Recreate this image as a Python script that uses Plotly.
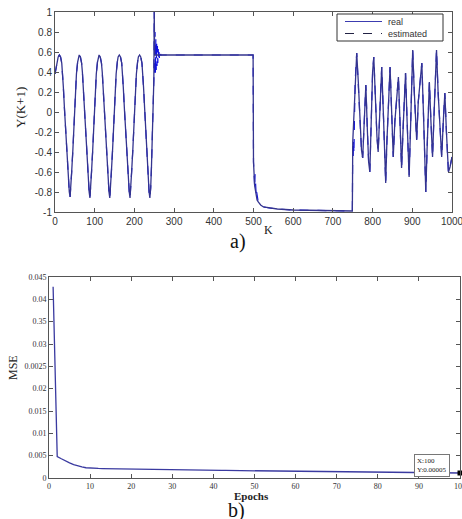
import plotly.graph_objects as go

# ---------------- a) identification result ----------------
real_K = [0, 3, 6, 8, 11,
          14, 17, 19, 21, 24, 27, 30, 33, 36, 38, 40, 42, 45, 48, 51, 54, 57, 59, 61,
          64, 67, 69, 71, 74, 77, 80, 83, 86, 88, 90, 92, 95, 98, 101, 104, 107, 109, 111,
          114, 117, 119, 121, 124, 127, 130, 133, 136, 138, 140, 142, 145, 148, 151, 154, 157, 159, 162,
          165, 168, 170, 172, 175, 178, 181, 184, 187, 189, 191, 193, 196, 199, 202, 205, 208, 210, 213,
          216, 219, 221, 223, 226, 229, 232, 235, 237, 239, 241, 243, 245, 247, 249, 250,
          251, 499, 500, 503, 506, 509, 512, 518, 525, 540, 560, 600, 680, 749, 750,
          752, 756, 760, 764, 768, 772, 775, 779, 783, 787, 790, 793, 797, 800, 803, 807, 811, 814,
          818, 823, 827, 830, 833, 836, 840, 844, 848, 852, 856, 861, 865, 869, 873, 877, 880, 883,
          887, 892, 896, 899, 901, 905, 908, 911, 915, 920, 924, 928, 931, 934, 937, 940, 943, 947,
          951, 955, 958, 961, 965, 970, 974, 978, 982, 986, 991, 995, 1000]
real_Y = [0.38, 0.46, 0.52, 0.55, 0.57,
          0.55, 0.49, 0.40, 0.25, 0.02, -0.22, -0.45, -0.65, -0.80, -0.85, -0.76, -0.60, -0.38, -0.12, 0.15, 0.38, 0.50, 0.55, 0.57,
          0.55, 0.49, 0.40, 0.25, 0.02, -0.22, -0.45, -0.65, -0.80, -0.86, -0.76, -0.60, -0.38, -0.12, 0.15, 0.38, 0.50, 0.55, 0.57,
          0.55, 0.49, 0.40, 0.25, 0.02, -0.22, -0.45, -0.65, -0.80, -0.86, -0.76, -0.60, -0.38, -0.12, 0.15, 0.38, 0.50, 0.55, 0.57,
          0.55, 0.49, 0.40, 0.25, 0.02, -0.22, -0.45, -0.65, -0.80, -0.86, -0.76, -0.60, -0.38, -0.12, 0.15, 0.38, 0.50, 0.55, 0.57,
          0.55, 0.49, 0.40, 0.25, 0.02, -0.22, -0.45, -0.65, -0.80, -0.86, -0.76, -0.55, -0.30, 0.00, 0.32, 1.00,
          0.57, 0.57, -0.50, -0.74, -0.84, -0.88, -0.90, -0.93, -0.95, -0.96, -0.97, -0.98, -0.985, -0.99, -0.30,
          -0.10, 0.30, 0.59, 0.30, -0.10, -0.38, -0.46, 0.00, 0.27, -0.20, -0.50, -0.60, 0.00, 0.40, 0.55, 0.10, -0.25, -0.40,
          0.05, 0.45, 0.00, -0.45, -0.71, -0.30, 0.15, 0.45, 0.00, -0.45, -0.10, 0.20, 0.35, -0.10, -0.56, -0.15, 0.20, 0.39,
          -0.10, -0.65, -0.10, 0.40, 0.62, 0.20, -0.10, -0.28, 0.10, 0.35, 0.49, 0.00, -0.50, -0.80, -0.40, 0.00, 0.30, -0.10,
          -0.45, 0.00, 0.35, 0.62, 0.20, -0.20, -0.45, -0.10, 0.19, -0.20, -0.60, -0.55, -0.45]

# transient deviations of the estimated output (otherwise identical to real)
trans_K = [250, 251, 252, 253, 254, 255, 256, 257, 258, 259, 260, 261, 262, 263, 264, 265, 266, 267, 268,
           500, 501, 502, 503, 504, 505, 506, 507, 508, 510,
           750, 751, 752, 753, 754, 756]
trans_Y = [1.00, 0.35, 0.80, 0.38, 0.74, 0.42, 0.70, 0.46, 0.66, 0.49, 0.63, 0.52, 0.60, 0.54, 0.59, 0.555, 0.58, 0.565, 0.57,
           -0.50, -0.72, -0.55, -0.76, -0.62, -0.80, -0.70, -0.85, -0.80, -0.88,
           -0.30, -0.48, -0.28, -0.42, -0.15, 0.30]
windows = [(250, 268), (500, 510), (750, 756)]

est_pts = [(k, y) for k, y in zip(real_K, real_Y)
           if not any(a <= k <= b for a, b in windows)]
est_pts += list(zip(trans_K, trans_Y))
est_pts.sort()
est_K = [p[0] for p in est_pts]
est_Y = [p[1] for p in est_pts]

top_xticks = [0, 100, 200, 300, 400, 500, 600, 700, 800, 900, 1000]
top_yticks = [-1, -0.8, -0.6, -0.4, -0.2, 0, 0.2, 0.4, 0.6, 0.8, 1]
top_ytext = ["-1", "-0.8", "-0.6", "-0.4", "-0.2", "0", "0.2", "0.4", "0.6", "0.8", "1"]
legend_names = ["real", "estimated"]

# ---------------- b) MSE ----------------
epochs = list(range(1, 101))
mse = [0.0428, 0.0048, 0.0043, 0.0038, 0.0034, 0.0030, 0.0027, 0.0025, 0.0023, 0.0022,
       0.00218, 0.00215, 0.00212, 0.00210, 0.00208, 0.00206, 0.00204, 0.00202, 0.00200, 0.00199,
       0.00197, 0.00196, 0.00194, 0.00193, 0.00191, 0.00190, 0.00189, 0.00187, 0.00186, 0.00185,
       0.00183, 0.00182, 0.00181, 0.00180, 0.00178, 0.00177, 0.00176, 0.00175, 0.00174, 0.00172,
       0.00171, 0.00170, 0.00169, 0.00168, 0.00167, 0.00166, 0.00165, 0.00164, 0.00163, 0.00162,
       0.00161, 0.00160, 0.00159, 0.00158, 0.00157, 0.00156, 0.00155, 0.00154, 0.00153, 0.00152,
       0.00151, 0.00150, 0.00149, 0.00148, 0.00147, 0.00146, 0.00145, 0.00144, 0.00143, 0.00142,
       0.00141, 0.00140, 0.00139, 0.00138, 0.00137, 0.00136, 0.00135, 0.00134, 0.00133, 0.00132,
       0.00131, 0.00130, 0.00129, 0.00128, 0.00127, 0.00126, 0.00125, 0.00124, 0.00123, 0.00122,
       0.00121, 0.00120, 0.00119, 0.00118, 0.00117, 0.00116, 0.00115, 0.00114, 0.00113, 0.00112]
bot_xticks = [0, 10, 20, 30, 40, 50, 60, 70, 80, 90, 100]
bot_yticks = [0, 0.005, 0.01, 0.015, 0.02, 0.025, 0.03, 0.035, 0.04, 0.045]
bot_ytext = ["0", "0.005", "0.01", "0.015", "0.02", "0.0025", "0.03", "0.35", "0.04", "0.045"]
tip_x, tip_y_text = 100, "0.00005"

W, H = 462, 519
def px(x):
    return x / W
def py(y):
    return 1 - y / H

REAL_C = "#34348f"
EST_C = "#1010e0"

fig = go.Figure()
fig.add_trace(go.Scatter(x=est_K, y=est_Y, mode="lines", name=legend_names[1], showlegend=False,
                         line=dict(color=EST_C, width=1.2, dash="dash"), xaxis="x", yaxis="y"))
fig.add_trace(go.Scatter(x=real_K, y=real_Y, mode="lines", name=legend_names[0], showlegend=False,
                         line=dict(color=REAL_C, width=1.3), xaxis="x", yaxis="y"))
fig.add_trace(go.Scatter(x=epochs, y=mse, mode="lines", showlegend=False,
                         line=dict(color="#3a3aa0", width=1.3), xaxis="x2", yaxis="y2"))
fig.add_trace(go.Scatter(x=[epochs[-1]], y=[mse[-1]], mode="markers", showlegend=False,
                         marker=dict(color="black", size=5, symbol="square"), xaxis="x2", yaxis="y2",
                         cliponaxis=False))

axcommon = dict(showline=True, linecolor="#555", linewidth=1, mirror="ticks", ticks="inside",
                ticklen=4, tickcolor="#555", showgrid=False, zeroline=False, automargin=False,
                ticklabeloverflow="allow")
sans = dict(family="Liberation Sans, Arial, sans-serif", size=10, color="#333")
serif = dict(family="Liberation Serif, Times New Roman, serif", size=8, color="#333")

fig.update_layout(
    width=W, height=H, margin=dict(l=0, r=0, t=0, b=0),
    paper_bgcolor="white", plot_bgcolor="white", showlegend=False, hovermode=False,
    xaxis=dict(domain=[px(55), px(452)], range=[0, 1000], tickvals=top_xticks,
               tickfont=sans, anchor="y", **axcommon),
    yaxis=dict(domain=[py(212), py(12)], range=[-1, 1], tickvals=top_yticks, ticktext=top_ytext,
               tickfont=sans, anchor="x", **axcommon),
    xaxis2=dict(domain=[px(49), px(460)], range=[0, 100], tickvals=bot_xticks,
                tickfont=serif, anchor="y2", **axcommon),
    yaxis2=dict(domain=[py(478), py(277)], range=[0, 0.045], tickvals=bot_yticks, ticktext=bot_ytext,
                tickfont=serif, anchor="x2", **axcommon),
)

# manual legend box (MATLAB style)
shapes = [
    dict(type="rect", x0=px(337), x1=px(443), y0=py(41), y1=py(14),
         line=dict(color="#333", width=1), fillcolor="white"),
    dict(type="line", x0=px(345), x1=px(382), y0=py(21.5), y1=py(21.5),
         line=dict(color="#3c3cb0", width=1.2)),
    dict(type="line", x0=px(345), x1=px(382), y0=py(33.5), y1=py(33.5),
         line=dict(color="#222244", width=1, dash="dash")),
]
for s in shapes:
    s.update(xref="paper", yref="paper", layer="above")
    fig.add_shape(**s)

lfont = dict(family="Liberation Sans, Arial, sans-serif", size=9, color="#333")
ann = [
    dict(text=legend_names[0], x=px(386), y=py(21.5), xanchor="left", font=lfont),
    dict(text=legend_names[1], x=px(386), y=py(33.5), xanchor="left", font=lfont),
    dict(text="Y(K+1)", x=px(20), y=py(108), textangle=-90,
         font=dict(family="Liberation Serif, serif", size=13, color="#222")),
    dict(text="K", x=px(268), y=py(230),
         font=dict(family="Liberation Serif, serif", size=12, color="#222")),
    dict(text="a)", x=px(238), y=py(241),
         font=dict(family="Liberation Serif, serif", size=20, color="#111")),
    dict(text="MSE", x=px(13), y=py(368), textangle=-90,
         font=dict(family="Liberation Serif, serif", size=12, color="#222")),
    dict(text="<b>Epochs</b>", x=px(252), y=py(496),
         font=dict(family="Liberation Serif, serif", size=11, color="#222")),
    dict(text="b)", x=px(236), y=py(510),
         font=dict(family="Liberation Serif, serif", size=20, color="#111")),
    dict(text="X:%d<br>Y:%s" % (tip_x, tip_y_text), x=px(432), y=py(465),
         align="left", bgcolor="white", bordercolor="#777", borderwidth=1, borderpad=2,
         font=dict(family="Liberation Serif, serif", size=7, color="#222")),
]
for a in ann:
    a.setdefault("xanchor", "center")
    a.update(xref="paper", yref="paper", showarrow=False, yanchor="middle")
    fig.add_annotation(**a)

fig.write_html("out.html", config={"displayModeBar": False, "staticPlot": True},
               post_script="document.body.style.margin='0';document.body.style.overflow='hidden';")
